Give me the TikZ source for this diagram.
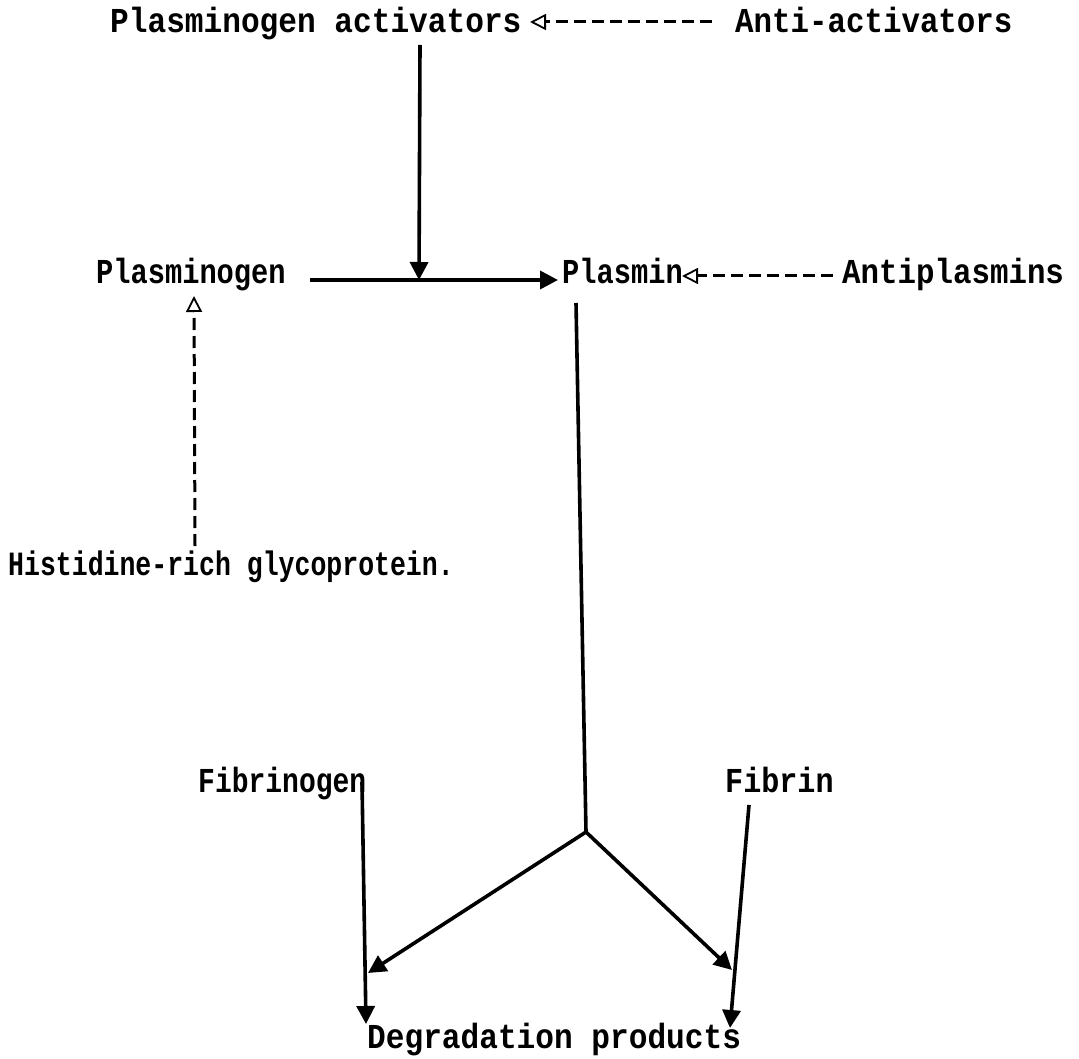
\documentclass[tikz,border=0pt]{standalone}
\usepackage{graphicx}
\usepackage{fontspec}
\setmonofont{Liberation Mono}
\usetikzlibrary{arrows.meta}
\newcommand{\tw}[2]{\scalebox{#1}[1]{#2}}
\begin{document}
\begin{tikzpicture}[x=1pt,y=-1pt,
  lbl/.style={anchor=base west,inner sep=0pt,font=\fontsize{35}{36}\selectfont\ttfamily\bfseries},
  midlbl/.style={anchor=base west,inner sep=0pt,font=\fontsize{34}{35}\selectfont\ttfamily\bfseries},
  solidarr/.style={line width=3.6pt,-{Triangle[length=18pt,width=18pt]}},
  solidln/.style={line width=3.6pt},
  inhib/.style={line width=3pt,dash pattern=on 12pt off 6pt,-{Triangle[open,length=16pt,width=16pt,line width=1.8pt]}}]
\useasboundingbox (0,0) rectangle (1079,1059);
% nodes
\node[lbl] (pa) at (110,33) {\tw{0.89}{Plasminogen activators}};
\node[lbl] (aa) at (735,33) {\tw{0.88}{Anti-activators}};
\node[lbl] (pg) at (96,284) {\tw{0.82}{Plasminogen}};
\node[lbl] (pl) at (562,284) {\tw{0.82}{Plasmin}};
\node[lbl] (ap) at (842,284) {\tw{0.88}{Antiplasmins}};
\node[midlbl] (hg) at (8,575) {\tw{0.78}{Histidine-rich glycoprotein.}};
\node[lbl] (fg) at (198,792) {\tw{0.8}{Fibrinogen}};
\node[lbl] (fb) at (725,792) {\tw{0.86}{Fibrin}};
\node[lbl] (dp) at (367,1048) {\tw{0.89}{Degradation products}};
% helper coordinates
\coordinate (aas) at (712,22);
\coordinate (pae) at (530,22);
\coordinate (v1) at (420,45);
\coordinate (m) at (419,280);
\coordinate (h0) at (310,280);
\coordinate (plw) at (558,280);
\coordinate (aps) at (833,276);
\coordinate (ple) at (682,276);
\coordinate (hgs) at (195,546);
\coordinate (hge) at (194,296);
\coordinate (pls) at (576,303);
\coordinate (j) at (586,832);
\coordinate (tl) at (368,973);
\coordinate (tr) at (732,970);
\coordinate (fgs) at (362,782);
\coordinate (fge) at (366,1024);
\coordinate (fbs) at (749,805);
\coordinate (fbe) at (730,1028);
% connectors
\draw[inhib] (aas) -- (pae);
\draw[solidarr] (v1) -- (m);
\draw[solidarr] (h0) -- (plw);
\draw[inhib] (aps) -- (ple);
\draw[inhib] (hgs) -- (hge);
\draw[solidln] (pls) -- (j);
\draw[solidarr] (j) -- (tl);
\draw[solidarr] (j) -- (tr);
\draw[solidarr] (fgs) -- (fge);
\draw[solidarr] (fbs) -- (fbe);
\end{tikzpicture}
\end{document}
